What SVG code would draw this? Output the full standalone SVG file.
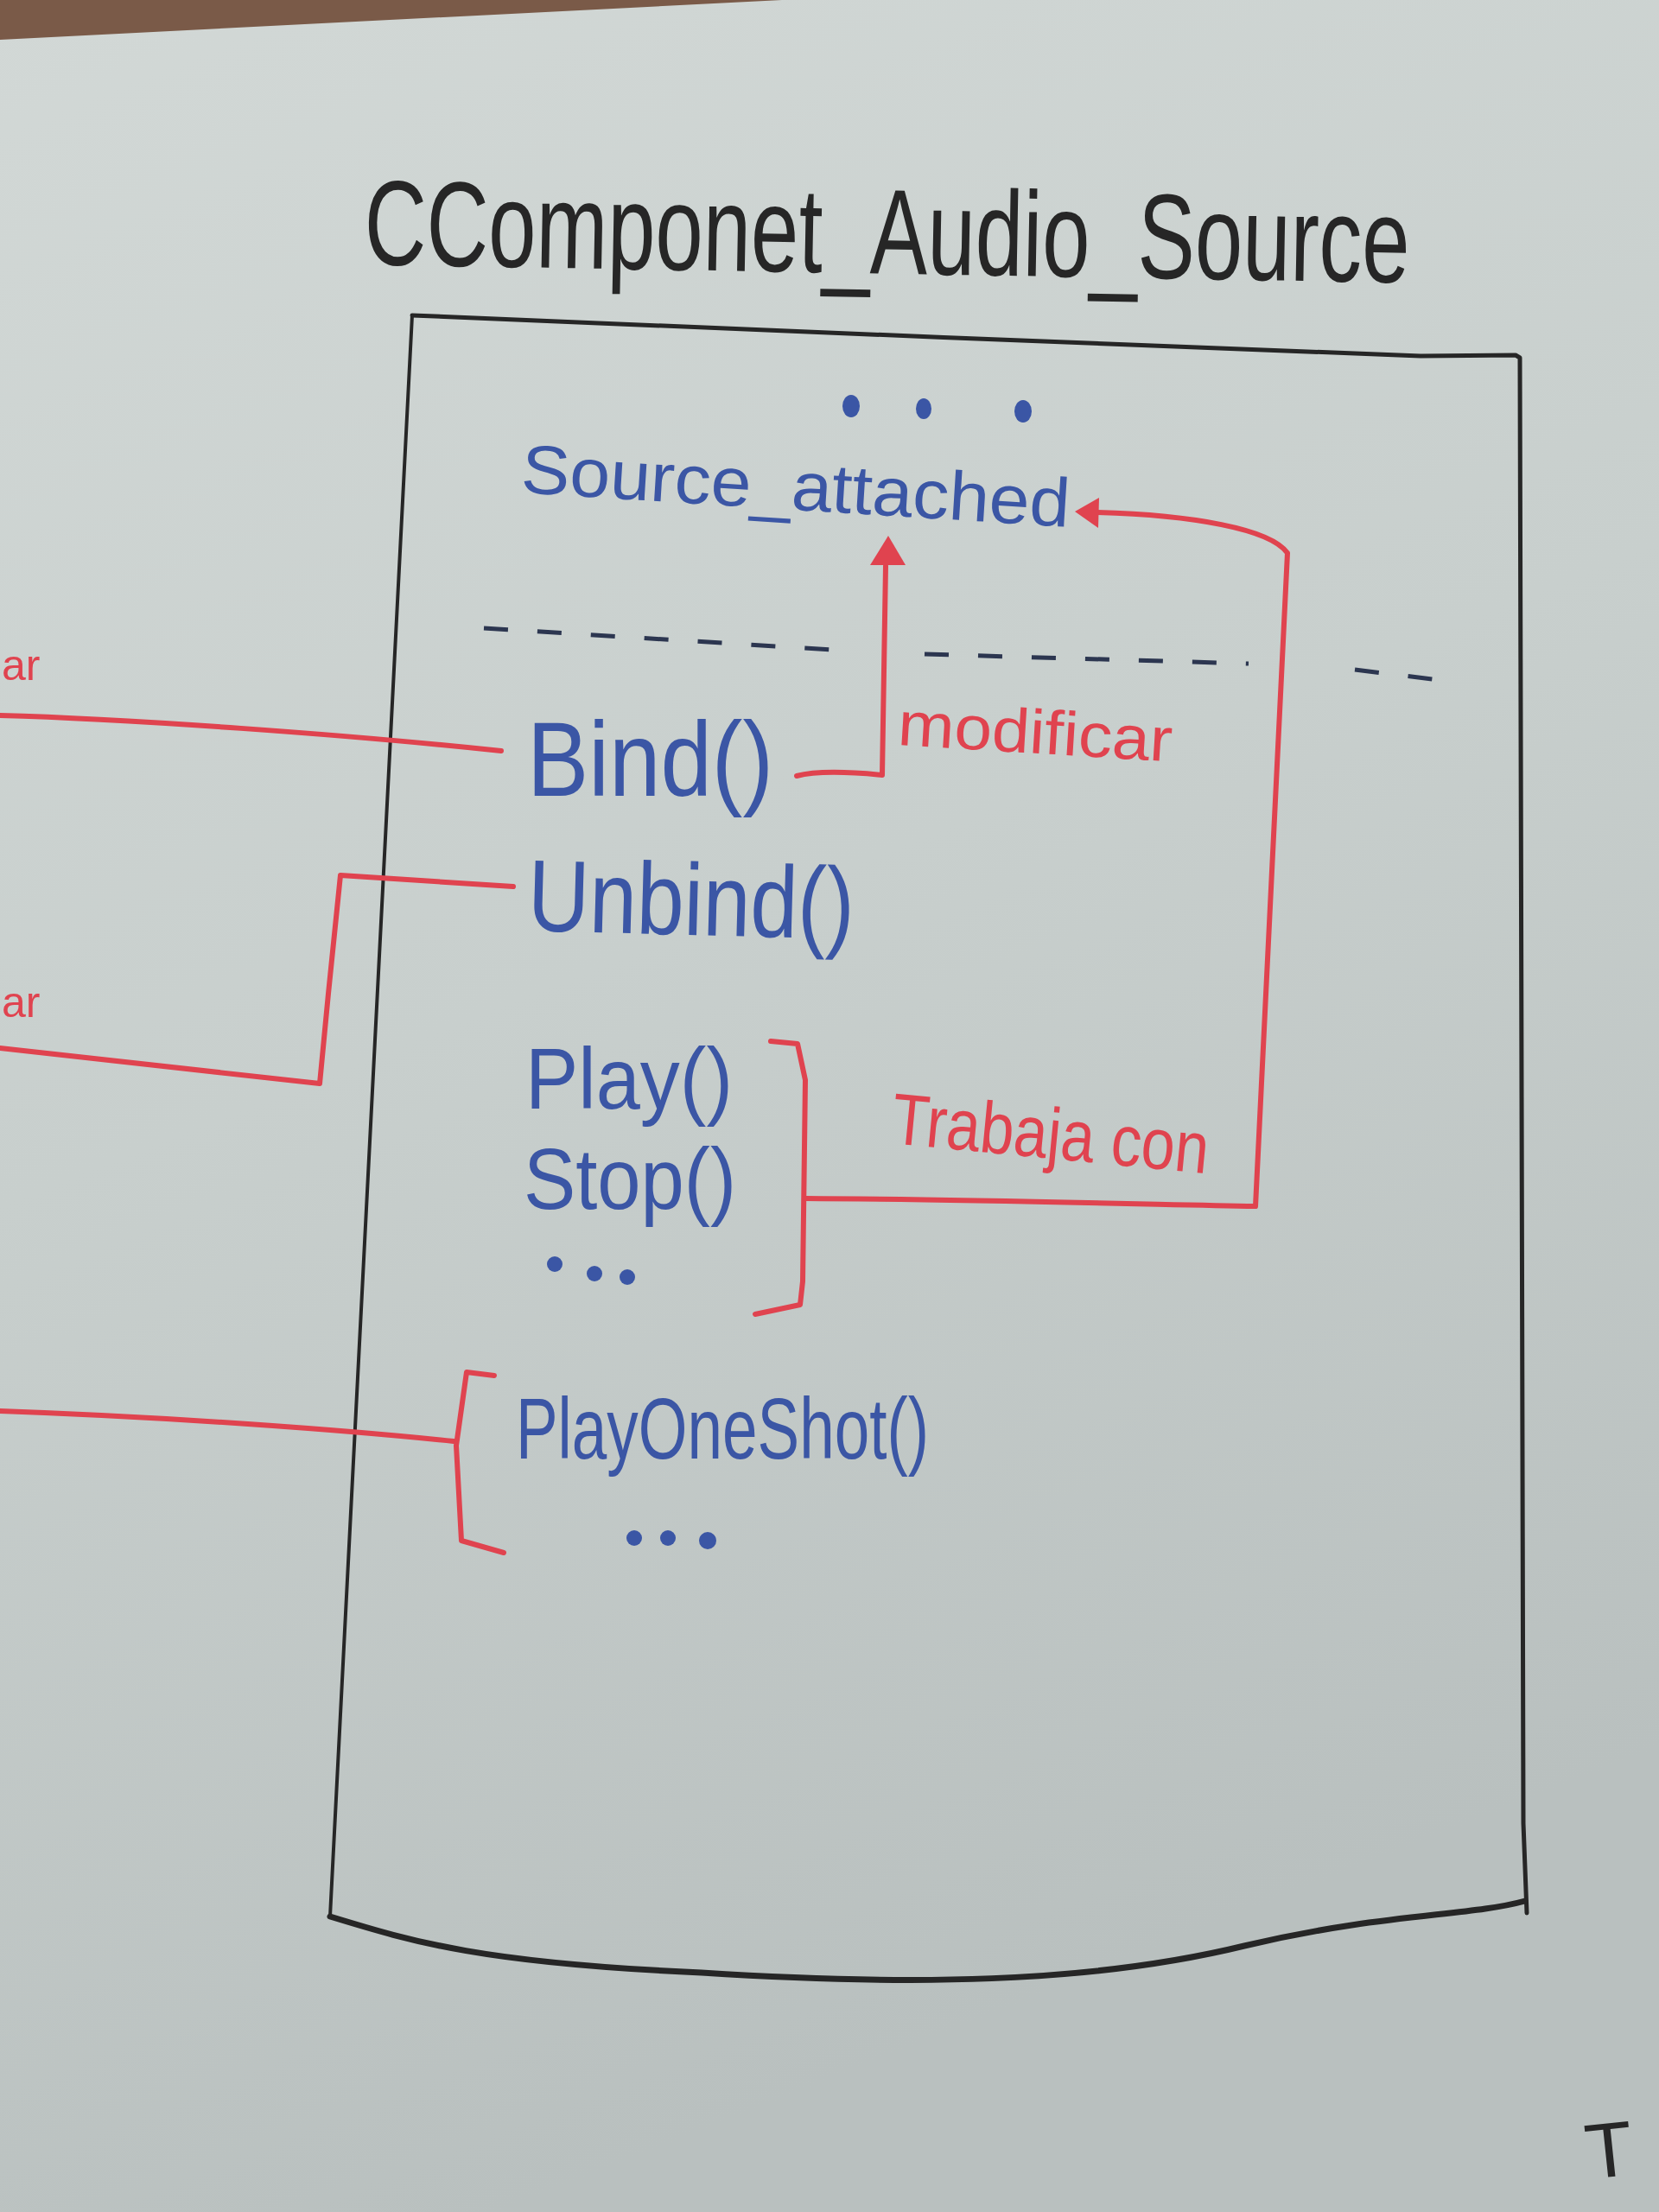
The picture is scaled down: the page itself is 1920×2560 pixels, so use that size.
<svg xmlns="http://www.w3.org/2000/svg" width="1920" height="2560" viewBox="0 0 1920 2560">
  <defs>
    <linearGradient id="bg" x1="0" y1="0" x2="0.3" y2="1">
      <stop offset="0" stop-color="#d2d8d6"/>
      <stop offset="0.5" stop-color="#c8cfcd"/>
      <stop offset="1" stop-color="#b9c0bf"/>
    </linearGradient>
    <style>
      .blue { fill: #3b56a5; font-family: "Liberation Sans", Arial, sans-serif; }
      .red { fill: #e0434f; font-family: "Liberation Sans", Arial, sans-serif; }
      .black { fill: #262626; font-family: "Liberation Sans", Arial, sans-serif; }
      .rline { fill: none; stroke: #e0434f; stroke-width: 6; stroke-linecap: round; stroke-linejoin: round; }
      .kline { fill: none; stroke: #262626; stroke-linecap: round; stroke-linejoin: round; }
      .dash { fill: none; stroke: #2c3650; stroke-width: 5; stroke-dasharray: 28 34; }
      .dot { fill: #3b56a5; }
      .head { fill: #e0434f; }
    </style>
  </defs>

  <rect width="1920" height="2560" fill="url(#bg)"/>
  <polygon points="0,0 905,0 0,46" fill="#7a5a48"/>

  <g id="title">
    <text class="black" x="0" y="0" font-size="100" textLength="1210" lengthAdjust="spacingAndGlyphs" transform="translate(421 306) rotate(1) scale(1 1.4)">CComponet_Audio_Source</text>
  </g>

  <g id="class-box">
    <path class="kline" stroke-width="5" d="M477,365 C800,378 1300,400 1644,412 L1754,411 L1759,414 L1763,2110 L1767,2214"/>
    <path class="kline" stroke-width="4" d="M477,365 L382,2218"/>
    <path class="kline" stroke-width="7" d="M382,2218 C480,2248 560,2272 812,2283 C1050,2298 1260,2296 1440,2252 C1600,2214 1700,2218 1765,2200"/>
    <path class="dash" d="M560,727 L963,752"/>
    <path class="dash" d="M1070,757 L1445,768"/>
    <path class="dash" d="M1568,775 L1682,789"/>
  </g>

  <g id="attr-dots">
    <ellipse class="dot" cx="985" cy="470" rx="10" ry="13"/>
    <ellipse class="dot" cx="1069" cy="473" rx="9" ry="12"/>
    <ellipse class="dot" cx="1184" cy="476" rx="10" ry="13"/>
  </g>

  <g id="source-attached">
    <text class="blue" x="602" y="570" font-size="80" textLength="636" lengthAdjust="spacingAndGlyphs" transform="rotate(3.6 602 570)">Source_attached</text>
  </g>

  <g id="bind">
    <text class="blue" x="610" y="921" font-size="122" textLength="285" lengthAdjust="spacingAndGlyphs">Bind()</text>
  </g>

  <g id="unbind">
    <text class="blue" x="610" y="1077" font-size="118" textLength="378" lengthAdjust="spacingAndGlyphs" transform="rotate(1.5 610 1077)">Unbind()</text>
  </g>

  <g id="play-stop">
    <text class="blue" x="608" y="1283" font-size="100" textLength="240" lengthAdjust="spacingAndGlyphs">Play()</text>
    <text class="blue" x="606" y="1399" font-size="100" textLength="246" lengthAdjust="spacingAndGlyphs">Stop()</text>
    <circle class="dot" cx="642" cy="1463" r="9"/>
    <circle class="dot" cx="688" cy="1474" r="9"/>
    <circle class="dot" cx="726" cy="1478" r="9"/>
  </g>

  <g id="play-one-shot">
    <text class="blue" x="597" y="1688" font-size="100" textLength="478" lengthAdjust="spacingAndGlyphs">PlayOneShot()</text>
    <circle class="dot" cx="734" cy="1780" r="9"/>
    <circle class="dot" cx="773" cy="1780" r="9"/>
    <circle class="dot" cx="819" cy="1783" r="10"/>
  </g>

  <g id="connectors">
    <path class="rline" d="M0,828 C150,832 400,850 580,869"/>
    <path class="rline" d="M594,1026 L394,1013 L380,1150 L370,1254 L0,1213"/>
    <path class="rline" d="M0,1633 C200,1640 400,1655 525,1668"/>
    <path class="rline" d="M572,1592 L540,1588 L528,1673 L534,1783 L583,1797"/>
    <path class="rline" d="M922,898 C945,892 980,893 1021,897 L1025,655"/>
    <polygon class="head" points="1028,620 1007,654 1048,654"/>
    <path class="rline" d="M892,1205 L923,1208 L932,1250 L929,1483 L926,1510 L874,1521"/>
    <path class="rline" d="M932,1387 C1100,1388 1300,1393 1453,1396 L1490,640 C1470,612 1380,596 1268,593"/>
    <polygon class="head" points="1244,592 1272,576 1271,611"/>
  </g>

  <g id="labels">
    <text class="red" x="1038" y="862" font-size="72" textLength="318" lengthAdjust="spacingAndGlyphs" transform="rotate(3.5 1038 862)">modificar</text>
    <text class="red" x="1030" y="1323" font-size="84" textLength="368" lengthAdjust="spacingAndGlyphs" transform="rotate(5.5 1030 1323)">Trabaja con</text>
    <text class="red" x="2" y="787" font-size="50">ar</text>
    <text class="red" x="2" y="1177" font-size="50">ar</text>
    <text class="black" x="1838" y="2522" font-size="90" transform="rotate(-6 1838 2522)">T</text>
  </g>
</svg>
